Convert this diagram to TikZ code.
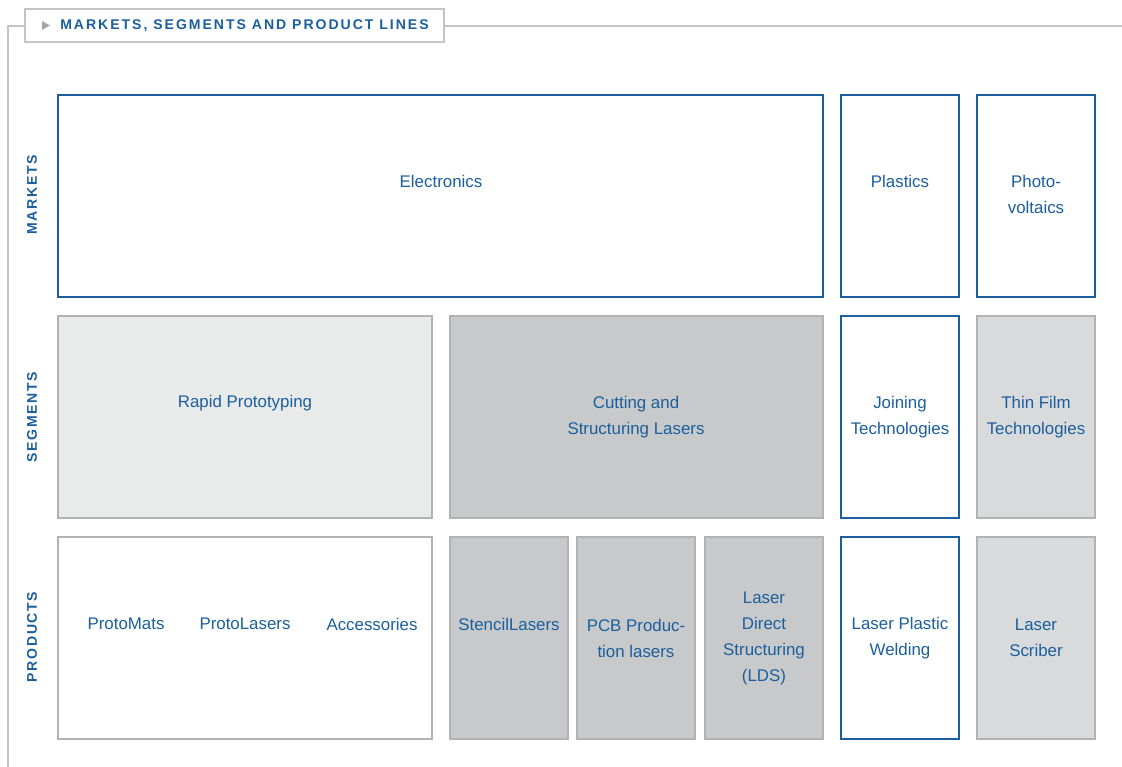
\documentclass[tikz,border=0pt]{standalone}
\usepackage{fontspec}
\setmainfont{Liberation Sans}
\newfontfamily\headfont[LetterSpace=12]{Liberation Sans}
\newfontfamily\titlefont[LetterSpace=14]{Liberation Sans}

\definecolor{lpkfblue}{HTML}{1B5F9E}
\definecolor{rulegray}{HTML}{C4C4C4}
\definecolor{boxgray}{HTML}{B2B2B2}
\definecolor{fillpale}{HTML}{E9EAEA}
\definecolor{fillmid}{HTML}{C8C9CA}
\definecolor{filllight}{HTML}{D9DADB}

% row edges (px, top to bottom)
\def\mTop{95}  \def\mBot{297}
\def\sTop{316} \def\sBot{518}
\def\pTop{537} \def\pBot{739}

\begin{document}
\begin{tikzpicture}[x=0.025cm, y=-0.025cm,
    bluebox/.style={draw=lpkfblue, line width=0.85pt, fill=white},
    graybox/.style={draw=boxgray, line width=0.8pt},
    cell/.style={text=lpkfblue, align=center, inner sep=0pt,
      font=\fontsize{12}{18.5}\selectfont},
    rowlabel/.style={text=lpkfblue, rotate=90, inner sep=0pt,
      font=\headfont\bfseries\fontsize{10}{12}\selectfont}]
  \useasboundingbox (0,0) rectangle (1122,767);

  % frame and heading
  \draw[rulegray, line width=1pt] (25,26) -- (8,26) -- (8,767);
  \draw[rulegray, line width=1pt] (444,26) -- (1122,26);
  \draw[rulegray, line width=0.9pt, fill=white] (25,9) rectangle (444,42);
  \fill[gray!70] (42,21) -- (50,25.5) -- (42,30) -- cycle;
  \node[text=lpkfblue, inner sep=0pt, anchor=west,
    font=\titlefont\bfseries\fontsize{10}{12}\selectfont] (heading) at (60,25.5)
    {MARKETS, SEGMENTS AND PRODUCT LINES};

  \node[rowlabel] (markets) at (32,195) {MARKETS};
  \node[rowlabel] (segments) at (32,417) {SEGMENTS};
  \node[rowlabel] (products) at (32,637) {PRODUCTS};

  % markets
  \draw[bluebox] (58,\mTop) rectangle (823,\mBot);
  \draw[bluebox] (841,\mTop) rectangle (959,\mBot);
  \draw[bluebox] (977,\mTop) rectangle (1095,\mBot);
  \node[cell] (electronics) at (441,181) {Electronics};
  \node[cell] (plastics) at (900,181) {Plastics};
  \node[cell] (pv) at (1036,194) {Photo-\\voltaics};

  % segments
  \draw[graybox, fill=fillpale] (58,\sTop) rectangle (432,\sBot);
  \draw[graybox, fill=fillmid] (450,\sTop) rectangle (823,\sBot);
  \draw[bluebox] (841,\sTop) rectangle (959,\sBot);
  \draw[graybox, fill=filllight] (977,\sTop) rectangle (1095,\sBot);
  \node[cell] (rapid) at (245,403) {Rapid Prototyping};
  \node[cell] (cutting) at (636,417) {Cutting and\\Structuring Lasers};
  \node[cell] (joining) at (900,417) {Joining\\Technologies};
  \node[cell] (thinfilm) at (1036,417) {Thin Film\\Technologies};

  % products
  \draw[graybox, fill=white] (58,\pTop) rectangle (432,\pBot);
  \draw[graybox, fill=fillmid] (450,\pTop) rectangle (568,\pBot);
  \draw[graybox, fill=fillmid] (577,\pTop) rectangle (695,\pBot);
  \draw[graybox, fill=fillmid] (705,\pTop) rectangle (823,\pBot);
  \draw[bluebox] (841,\pTop) rectangle (959,\pBot);
  \draw[graybox, fill=filllight] (977,\pTop) rectangle (1095,\pBot);
  \node[cell] (protomats) at (126,624) {ProtoMats};
  \node[cell] (protolasers) at (245,624) {ProtoLasers};
  \node[cell] (accessories) at (372,624) {Accessories};
  \node[cell] (stencil) at (509,624) {StencilLasers};
  \node[cell] (pcb) at (636,638) {PCB Produc-\\tion lasers};
  \node[cell] (lds) at (764,638.5) {Laser\\Direct\\Structuring\\(LDS)};
  \node[cell] (welding) at (900,638) {Laser Plastic\\Welding};
  \node[cell] (scriber) at (1036,638) {Laser\\Scriber};
\end{tikzpicture}
\end{document}
